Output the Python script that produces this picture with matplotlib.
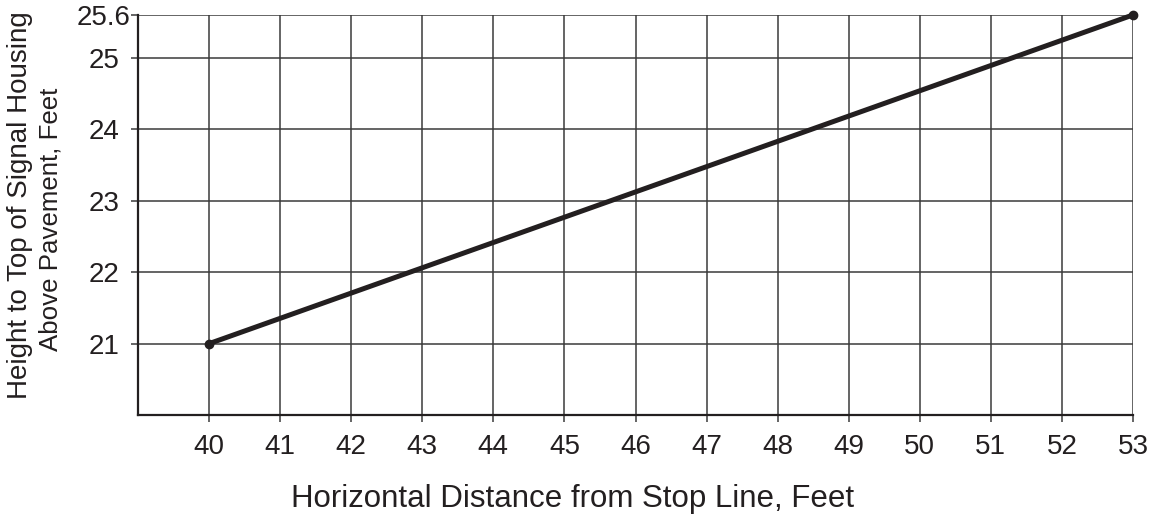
import numpy as np
import matplotlib
matplotlib.use("Agg")
import matplotlib.pyplot as plt

# data
distance_ft = [40, 53]
height_ft = [21.0, 25.6]
x_ticks = list(range(40, 54))
y_ticks = [21, 22, 23, 24, 25, 25.6]
y_tick_labels = ["21", "22", "23", "24", "25", "25.6"]

plt.rcParams['font.family'] = ['Liberation Sans', 'DejaVu Sans']

W, H = 1160, 515
fig = plt.figure(figsize=(W / 100, H / 100), dpi=100)
ax = fig.add_axes([0.119, 0.194, 0.8577, 0.777])

ink = '#231f20'
grid_c = '#3a3a3a'

ax.set_xlim(39, 53)
ax.set_ylim(20, 25.6)
ax.set_xticks(x_ticks)
ax.set_yticks(y_ticks)
ax.set_yticklabels(y_tick_labels)
ax.grid(True, color=grid_c, linewidth=1.1, zorder=1)

for s in ['top', 'right']:
    ax.spines[s].set_visible(False)
for s in ['left', 'bottom']:
    ax.spines[s].set_linewidth(1.6)
    ax.spines[s].set_color(ink)

ax.tick_params(axis='both', direction='out', length=5, width=1.1,
               color=grid_c, labelsize=20, labelcolor=ink)
ax.tick_params(axis='x', pad=8.5)
ax.tick_params(axis='y', pad=19.5)
for lab in ax.get_yticklabels():
    lab.set_horizontalalignment('center')
    lab.set_verticalalignment('center_baseline')

ax.plot(distance_ft, height_ft, color=ink, linewidth=3.6, marker='o',
        markersize=6, solid_capstyle='round', zorder=3, clip_on=False)

fig.text(573 / W, 1 - 507.5 / H, "Horizontal Distance from Stop Line, Feet",
         fontsize=22.5, color=ink, ha='center', va='baseline')
# y label, two lines placed separately
fig.text(27.5 / W, 1 - 205 / H, "Height to Top of Signal Housing",
         fontsize=20, color=ink, ha='center', va='baseline', rotation=90,
         rotation_mode='anchor')
fig.text(58 / W, 1 - 219 / H, "Above Pavement, Feet",
         fontsize=18.6, color=ink, ha='center', va='baseline', rotation=90,
         rotation_mode='anchor')

fig.savefig("out.png", dpi=100)
